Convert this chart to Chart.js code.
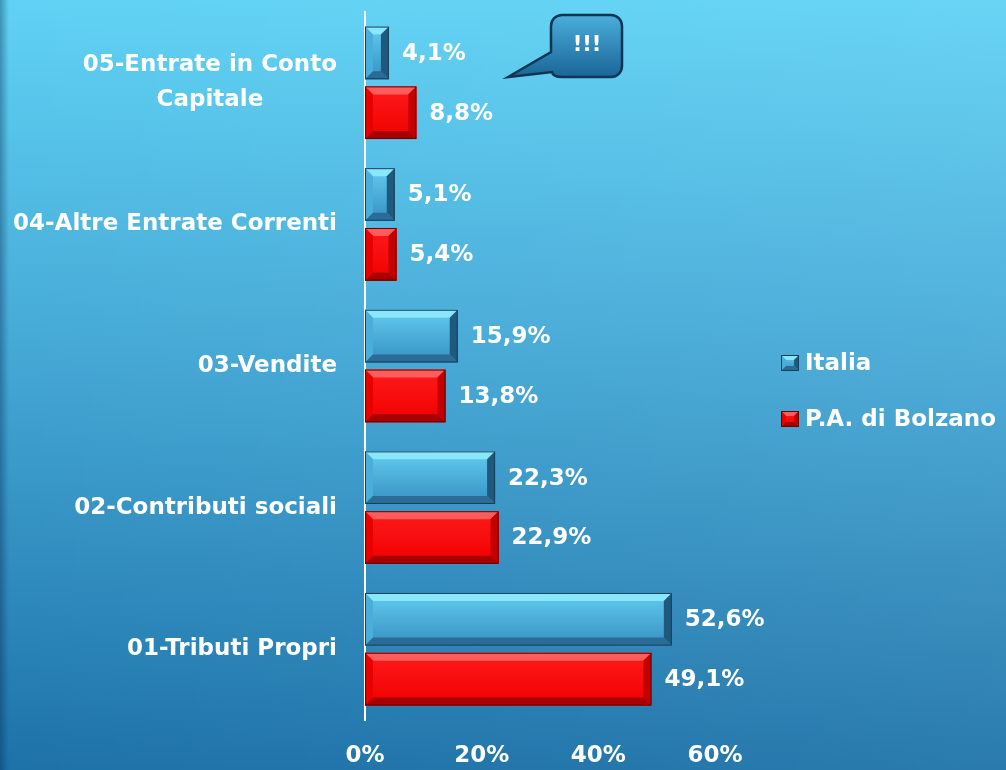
<!DOCTYPE html>
<html>
<head>
<meta charset="utf-8">
<script src="https://cdn.jsdelivr.net/npm/chart.js@4.4.0/dist/chart.umd.min.js"></script>
<style>
html,body{margin:0;padding:0;background:#3a9acb;}
#wrap{width:1006px;height:770px;position:relative;}
</style>
</head>
<body>
<div id="wrap"><canvas id="c"></canvas></div>
<script>
// ---- data ----
const categories = [
  ['05-Entrate in Conto', 'Capitale'],
  '04-Altre Entrate Correnti',
  '03-Vendite',
  '02-Contributi sociali',
  '01-Tributi Propri'
];
const seriesNames = ['Italia', 'P.A. di Bolzano'];
const italia = [4.1, 5.1, 15.9, 22.3, 52.6];
const bolzano = [8.8, 5.4, 13.8, 22.9, 49.1];
const xTicks = [0, 20, 40, 60];
const calloutText = '!!!';

const FONT = '"DejaVu Sans", "Liberation Sans", sans-serif';

const styles = [
  {face0:'#62ccef', face1:'#3690c2', top:'#8ae6fb', bottom:'#2a6c96', right:'#1f5a7e', left:'#4aaedb', edge:'#173f5a', legend:'#3a94c4'},
  {face0:'#ff1a1a', face1:'#f00000', top:'#ff5c5c', bottom:'#a60000', right:'#c20000', left:'#e80000', edge:'#6a0000', legend:'#ff0000'}
];

function bevel(ctx, x0, y0, x1, y1, s, bmax) {
  const w = x1 - x0, h = y1 - y0;
  const b = Math.min(bmax, w / 2, h / 2);
  const g = ctx.createLinearGradient(0, y0, 0, y1);
  g.addColorStop(0, s.face0); g.addColorStop(1, s.face1);
  ctx.fillStyle = g; ctx.fillRect(x0, y0, w, h);
  const poly = (pts, col) => {
    ctx.beginPath(); ctx.moveTo(pts[0][0], pts[0][1]);
    for (let i = 1; i < pts.length; i++) ctx.lineTo(pts[i][0], pts[i][1]);
    ctx.closePath(); ctx.fillStyle = col; ctx.fill();
  };
  poly([[x0,y0],[x1,y0],[x1-b,y0+b],[x0+b,y0+b]], s.top);
  poly([[x0,y0],[x0+b,y0+b],[x0+b,y1-b],[x0,y1]], s.left);
  poly([[x1,y0],[x1,y1],[x1-b,y1-b],[x1-b,y0+b]], s.right);
  poly([[x0,y1],[x1,y1],[x1-b,y1-b],[x0+b,y1-b]], s.bottom);
  ctx.strokeStyle = s.edge; ctx.lineWidth = 1;
  ctx.strokeRect(x0 + 0.5, y0 + 0.5, w - 1, h - 1);
}

const bgPlugin = {
  id: 'bg',
  beforeDraw(chart) {
    const {ctx, width, height} = chart;
    ctx.save();
    const g = ctx.createLinearGradient(0, 0, 0, height);
    g.addColorStop(0, '#60d2f4');
    g.addColorStop(0.45, '#45a9d6');
    g.addColorStop(1, '#1d72a8');
    ctx.fillStyle = g; ctx.fillRect(0, 0, width, height);
    const h = ctx.createLinearGradient(0, 0, width, 0);
    h.addColorStop(0, 'rgba(255,255,255,0)');
    h.addColorStop(1, 'rgba(255,255,255,0.06)');
    ctx.fillStyle = h; ctx.fillRect(0, 0, width, height);
    const l = ctx.createLinearGradient(0, 0, 9, 0);
    l.addColorStop(0, 'rgba(0,30,70,0.35)');
    l.addColorStop(1, 'rgba(0,30,70,0)');
    ctx.fillStyle = l; ctx.fillRect(0, 0, 9, height);
    ctx.restore();
  }
};

const decoPlugin = {
  id: 'deco',
  afterDatasetsDraw(chart) {
    const ctx = chart.ctx;
    ctx.save();
    chart.data.datasets.forEach((ds, di) => {
      const meta = chart.getDatasetMeta(di);
      meta.data.forEach((bar, i) => {
        const x0 = Math.min(bar.base, bar.x), x1 = Math.max(bar.base, bar.x);
        const y0 = bar.y - bar.height / 2, y1 = bar.y + bar.height / 2;
        bevel(ctx, x0, y0, x1, y1, styles[di], 8);
        ctx.fillStyle = '#ffffff';
        ctx.font = 'bold 23px ' + FONT;
        ctx.textAlign = 'left'; ctx.textBaseline = 'middle';
        const v = ds.data[i];
        ctx.fillText(v.toFixed(1).replace('.', ',') + '%', x1 + 13, bar.y + 1);
      });
    });
    ctx.restore();
  },
  afterDraw(chart) {
    const ctx = chart.ctx;
    const ys = chart.scales.y;
    ctx.save();
    // category labels
    ctx.fillStyle = '#ffffff';
    ctx.font = 'bold 23px ' + FONT;
    ctx.textBaseline = 'middle';
    ctx.textAlign = 'center';
    chart.data.labels.forEach((lab, i) => {
      const lines = Array.isArray(lab) ? lab : [lab];
      const w = Math.max(...lines.map(t => ctx.measureText(t).width));
      const cx = 337 - w / 2;
      const yc = ys.getPixelForValue(i);
      const lh = 35;
      lines.forEach((t, k) => {
        ctx.fillText(t, cx, yc + (k - (lines.length - 1) / 2) * lh);
      });
    });
    // legend
    const ly = [363, 419];
    chart.data.datasets.forEach((ds, di) => {
      const bx = 781, by = ly[di] - 8;
      bevel(ctx, bx, by, bx + 18, by + 16, styles[di], 5);
      ctx.fillStyle = '#ffffff';
      ctx.font = 'bold 23px ' + FONT;
      ctx.textAlign = 'left'; ctx.textBaseline = 'middle';
      ctx.fillText(ds.label, 805, ly[di] + 1);
    });
    // callout
    const L = 551, R = 622, T = 15, B = 77, r = 11;
    ctx.beginPath();
    ctx.moveTo(L + r, T);
    ctx.lineTo(R - r, T);
    ctx.arcTo(R, T, R, T + r, r);
    ctx.lineTo(R, B - r);
    ctx.arcTo(R, B, R - r, B, r);
    ctx.lineTo(L + r, B);
    ctx.quadraticCurveTo(L + 2, B, L + 1, 72);
    ctx.lineTo(508, 77);
    ctx.lineTo(L, 52);
    ctx.lineTo(L, T + r);
    ctx.arcTo(L, T, L + r, T, r);
    ctx.closePath();
    const g = ctx.createLinearGradient(0, T, 0, B);
    g.addColorStop(0, '#4aaedb'); g.addColorStop(1, '#1a6598');
    ctx.fillStyle = g; ctx.fill();
    ctx.strokeStyle = '#0e3552'; ctx.lineWidth = 2.5; ctx.stroke();
    ctx.fillStyle = '#ffffff';
    ctx.font = 'bold 21px ' + FONT;
    ctx.textAlign = 'center'; ctx.textBaseline = 'middle';
    ctx.fillText(calloutText, 587, 46);
    ctx.restore();
  }
};

new Chart(document.getElementById('c'), {
  type: 'bar',
  data: {
    labels: categories,
    datasets: [
      {label: seriesNames[0], data: italia, backgroundColor: styles[0].legend, borderWidth: 0},
      {label: seriesNames[1], data: bolzano, backgroundColor: styles[1].legend, borderWidth: 0}
    ]
  },
  options: {
    indexAxis: 'y',
    responsive: true,
    maintainAspectRatio: false,
    animation: false,
    categoryPercentage: 0.845,
    barPercentage: 0.88,
    layout: {padding: {top: 12, left: 0, right: 291, bottom: 0}},
    plugins: {legend: {display: false}, tooltip: {enabled: false}},
    scales: {
      x: {
        min: 0, max: 60,
        afterBuildTicks(scale) { scale.ticks = xTicks.map(v => ({value: v})); },
        afterFit(scale) { scale.height = 50; },
        grid: {display: false, drawTicks: false},
        border: {display: false},
        ticks: {
          color: '#ffffff', padding: 22,
          font: {family: FONT, weight: 'bold', size: 23},
          callback: v => v + '%'
        }
      },
      y: {
        afterFit(scale) { scale.width = 365; },
        grid: {display: false, drawTicks: false},
        border: {display: true, color: '#ffffff', width: 2},
        ticks: {display: false}
      }
    }
  },
  plugins: [bgPlugin, decoPlugin]
});
</script>
</body>
</html>
